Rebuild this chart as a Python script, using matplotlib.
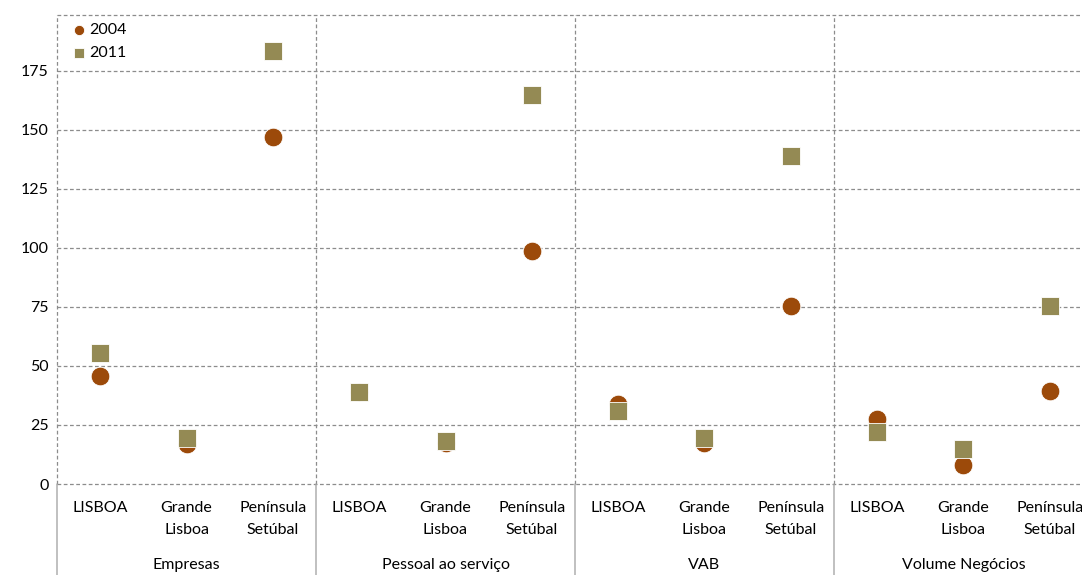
import matplotlib
matplotlib.use("Agg")
import matplotlib.pyplot as plt
import numpy as np

plt.rcParams["font.family"] = ["Lato", "DejaVu Sans"]

groups = ["Empresas", "Pessoal ao serviço", "VAB", "Volume Negócios"]
regions = [["LISBOA"], ["Grande", "Lisboa"], ["Península", "Setúbal"]]
v2004 = [45.8, 17.0, 147.0,
         39.0, 17.5, 98.7,
         33.9, 17.4, 75.4,
         27.5, 8.0, 39.4]
v2011 = [55.5, 19.5, 183.5,
         39.0, 18.2, 164.8,
         30.9, 19.5, 139.0,
         22.0, 14.8, 75.4]
yticks = [0, 25, 50, 75, 100, 125, 150, 175]

c2004 = "#9C4A0A"
c2011 = "#948A54"
grid_c = "#8c8c8c"
W, H = 1082, 575

fig = plt.figure(figsize=(W / 100, H / 100), dpi=100)
left, right, top, bottom = 57, 1093, 15, 484
ax = fig.add_axes([left / W, (H - bottom) / H, (right - left) / W, (bottom - top) / H])

x = np.arange(len(v2004))
ax.set_xlim(-0.5, len(v2004) - 0.5)
ymax = 198.7
ax.set_ylim(0, ymax)

for y in yticks + [ymax]:
    ax.axhline(y, color=grid_c, lw=0.9, ls=(0, (3, 2)), zorder=1, clip_on=False)
for b in [-0.5, 2.5, 5.5, 8.5]:
    ax.axvline(b, color=grid_c, lw=0.9, ls=(0, (3, 2)), zorder=1, clip_on=False)

ax.scatter(x, v2004, s=180, marker="o", color=c2004, edgecolors="white", linewidths=0.6, zorder=3, label="2004")
ax.scatter(x, v2011, s=180, marker="s", color=c2011, edgecolors="white", linewidths=0.6, zorder=4, label="2011")

for s in ax.spines.values():
    s.set_visible(False)
ax.set_xticks([])
ax.set_yticks(yticks)
ax.tick_params(axis="y", length=0, pad=6, labelsize=11.5, colors="#000000")

# category labels below the axis
for i in range(len(v2004)):
    lines = regions[i % 3]
    for j, ln in enumerate(lines):
        ax.annotate(ln, xy=(i, H - 508 - 22 * j), xycoords=("data", "figure pixels"),
                    ha="center", va="center", fontsize=11.5, annotation_clip=False)
for g, name in enumerate(groups):
    ax.annotate(name, xy=(g * 3 + 1, H - 565), xycoords=("data", "figure pixels"),
                ha="center", va="center", fontsize=11.5, annotation_clip=False)
for b in [-0.5, 2.5, 5.5, 8.5]:
    ax.annotate("", xy=(b, 0), xycoords="data", xytext=(b, 0), textcoords=("data", "figure pixels"),
                arrowprops=dict(arrowstyle="-", color="#a6a6a6", lw=1.0, shrinkA=0, shrinkB=0),
                annotation_clip=False)

leg = ax.legend(loc="upper left", bbox_to_anchor=(0.0, 1.01), frameon=False, fontsize=11.5,
                handletextpad=0.0, labelspacing=0.55, borderpad=0.3, markerscale=0.55,
                handlelength=1.2)

fig.savefig("out.png", dpi=100)
